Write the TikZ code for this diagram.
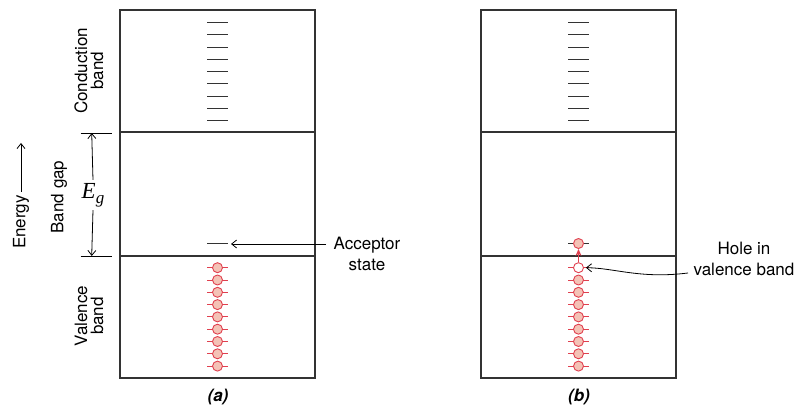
\documentclass[tikz,border=0pt]{standalone}
\usepackage{fontspec}
\setmainfont{TeX Gyre Heros}
\newfontfamily\egfont{Liberation Serif}
\usetikzlibrary{arrows.meta}
\definecolor{ered}{HTML}{E0404F}
\definecolor{efill}{HTML}{F4C2B6}
\definecolor{edge}{HTML}{333333}
\tikzset{
  lbl/.style={font=\fontsize{17}{21}\selectfont, inner sep=0pt},
  sidelbl/.style={font=\fontsize{17}{16}\selectfont, inner sep=0pt, rotate=90, align=center},
  bandline/.style={draw=edge, line width=1.4pt},
  level/.style={draw=black!80, line width=1pt},
  elec/.style={circle, draw=ered, fill=efill, line width=0.9pt, minimum size=10pt, inner sep=0pt},
  hole/.style={elec, fill=white},
  vlevel/.style={draw=ered, line width=0.9pt},
  chev/.style={-{Straight Barb[length=5pt,width=8pt]}, line width=0.8pt},
  caplbl/.style={font=\fontsize{17}{17}\selectfont\bfseries\itshape, inner sep=0pt},
}
\begin{document}
\begin{tikzpicture}[x=1pt,y=-1pt]
\useasboundingbox (0,0) rectangle (796,406);
% two panels
\foreach \n/\ox in {a/0,b/361}{
  \draw[bandline] (120+\ox,10) rectangle (315+\ox,378);
  \draw[bandline] (120+\ox,132) -- (315+\ox,132);
  \draw[bandline] (120+\ox,256) -- (315+\ox,256);
  \foreach \k in {0,...,8}{
    \draw[level] (207+\ox,22.7+12.25*\k) -- (228+\ox,22.7+12.25*\k);
  }
  \foreach \k in {1,...,8}{
    \draw[vlevel] (207+\ox,267.7+12.3*\k) -- (228+\ox,267.7+12.3*\k);
    \node[elec] (e\n\k) at (217.5+\ox,267.7+12.3*\k) {};
  }
  \draw[vlevel] (207+\ox,267.7) -- (228+\ox,267.7);
  \draw[level] (207+\ox,244) -- (228+\ox,244);
}
% panel (a) top valence electron
\node[elec] (ea0) at (217.5,267.7) {};
% panel (b): hole and electron in acceptor state
\node[hole] (hole) at (578.5,267.7) {};
\node[elec] (eacc) at (578.5,243.5) {};
\draw[ered, line width=1.1pt, -{Stealth[length=7pt,width=6pt]}] (hole.north) -- (eacc.south);

% acceptor label
\node[lbl, align=center] (acc) at (367,254) {Acceptor\\state};
\coordinate (accstart) at (326,244);
\coordinate (acclvl) at (231,244);
\draw[chev] (accstart) -- (acclvl);

% hole label
\node[lbl, align=center] (holelbl) at (744,259) {Hole in\\valence band};
\coordinate (holestart) at (688,273);
\draw[chev] (holestart) .. controls (640,279) and (615,268) .. ([xshift=2pt]hole.east);

% left side labels
\node[sidelbl] (cond) at (89,71) {Conduction\\band};
\node[sidelbl] (gap) at (59,197) {Band gap};
\node[sidelbl] (val) at (89,316) {Valence\\band};
\node[sidelbl] (energy) at (21,222) {Energy};
\coordinate (energytip) at (21,143);
\draw[chev] (energy.east) ++(0,-3) -- (energytip);

% band gap arrow
\coordinate (gtop) at (91.7,133);
\coordinate (gbot) at (91.7,256);
\draw[line width=0.8pt] (80.7,133) -- (111.7,133);
\draw[line width=0.8pt] (80.7,256) -- (111.7,256);
\node[inner sep=3pt, font=\egfont\itshape\fontsize{23}{23}\selectfont] (eg) at (93,195) {E\raisebox{-5pt}{\fontsize{17}{17}\selectfont g}};
\draw[chev] (eg.north) -- (gtop);
\draw[chev] (eg.south) -- (gbot);

% captions
\node[caplbl] (capa) at (218,397) {(a)};
\node[caplbl] (capb) at (579,397) {(b)};
\end{tikzpicture}
\end{document}
